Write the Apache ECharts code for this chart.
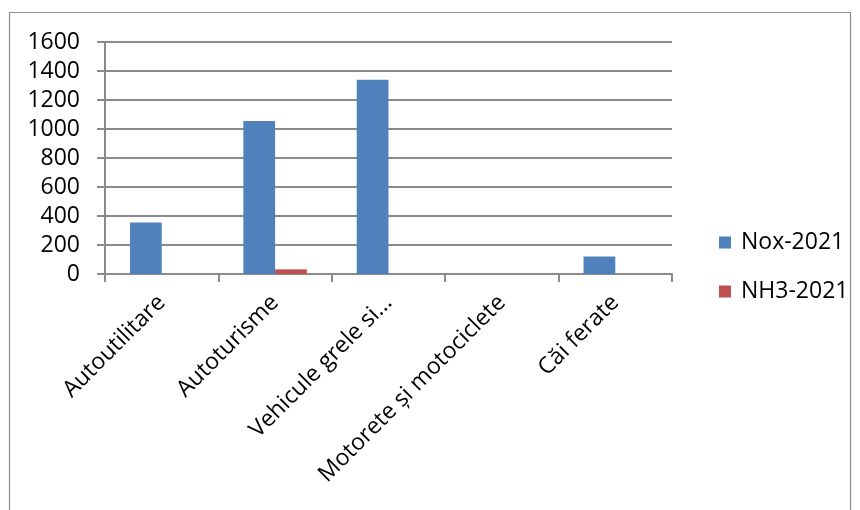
<!DOCTYPE html>
<html>
<head>
<meta charset="utf-8">
<script src="https://cdn.jsdelivr.net/npm/echarts@6/dist/echarts.min.js"></script>
<style>
  html, body { margin: 0; padding: 0; background: #fff; }
  #chart { width: 860px; height: 510px; }
</style>
</head>
<body>
<div id="chart"></div>
<script>
// Emissions by transport category, 2021
const categories = ['Autoutilitare', 'Autoturisme', 'Vehicule grele si...', 'Motorete și motociclete', 'Căi ferate'];
const noxValues = [355, 1055, 1340, 0, 120];
const nh3Values = [0, 32, 0, 0, 0];
const seriesNames = ['Nox-2021', 'NH3-2021'];
const yTicks = { min: 0, max: 1600, interval: 200 };

const FONT = '"Open Sans", "Liberation Sans", sans-serif';
const GRID_COLOR = '#8a8a8a';

const chart = echarts.init(document.getElementById('chart'), null, { renderer: 'canvas' });

chart.setOption({
  animation: false,
  backgroundColor: '#ffffff',
  textStyle: { fontFamily: FONT },
  graphic: [{
    type: 'rect',
    shape: { x: 9.5, y: 12.5, width: 841, height: 520 },
    style: { fill: 'none', stroke: '#8f8f8f', lineWidth: 1.2 },
    silent: true
  }],
  grid: { left: 105, right: 188, top: 42, bottom: 236, containLabel: false },
  legend: {
    orient: 'vertical',
    left: 714,
    top: 225,
    itemWidth: 12,
    itemHeight: 12,
    itemGap: 24,
    icon: 'rect',
    data: seriesNames,
    textStyle: { fontFamily: FONT, fontSize: 23, color: '#000', lineHeight: 25, padding: [0, 0, 0, 5] }
  },
  xAxis: {
    type: 'category',
    data: categories,
    axisLine: { show: true, lineStyle: { color: GRID_COLOR, width: 2 } },
    axisTick: { show: true, length: 8, lineStyle: { color: GRID_COLOR, width: 2 } },
    axisLabel: {
      rotate: 45,
      interval: 0,
      margin: 25,
      fontFamily: FONT,
      fontSize: 23,
      color: '#000'
    }
  },
  yAxis: {
    type: 'value',
    min: yTicks.min,
    max: yTicks.max,
    interval: yTicks.interval,
    axisLine: { show: true, lineStyle: { color: GRID_COLOR, width: 2 } },
    axisTick: { show: true, length: 8, lineStyle: { color: GRID_COLOR, width: 2 } },
    splitLine: { show: true, lineStyle: { color: GRID_COLOR, width: 2 } },
    axisLabel: {
      margin: 25,
      fontFamily: FONT,
      fontSize: 23,
      color: '#000',
      formatter: (v) => String(v)
    }
  },
  series: [
    {
      name: seriesNames[0],
      type: 'bar',
      data: noxValues,
      barGap: '0%',
      barCategoryGap: '44%',
      itemStyle: { color: '#4F81BD' }
    },
    {
      name: seriesNames[1],
      type: 'bar',
      data: nh3Values,
      barGap: '0%',
      barCategoryGap: '44%',
      itemStyle: { color: '#C0504D' }
    }
  ]
});
</script>
</body>
</html>
